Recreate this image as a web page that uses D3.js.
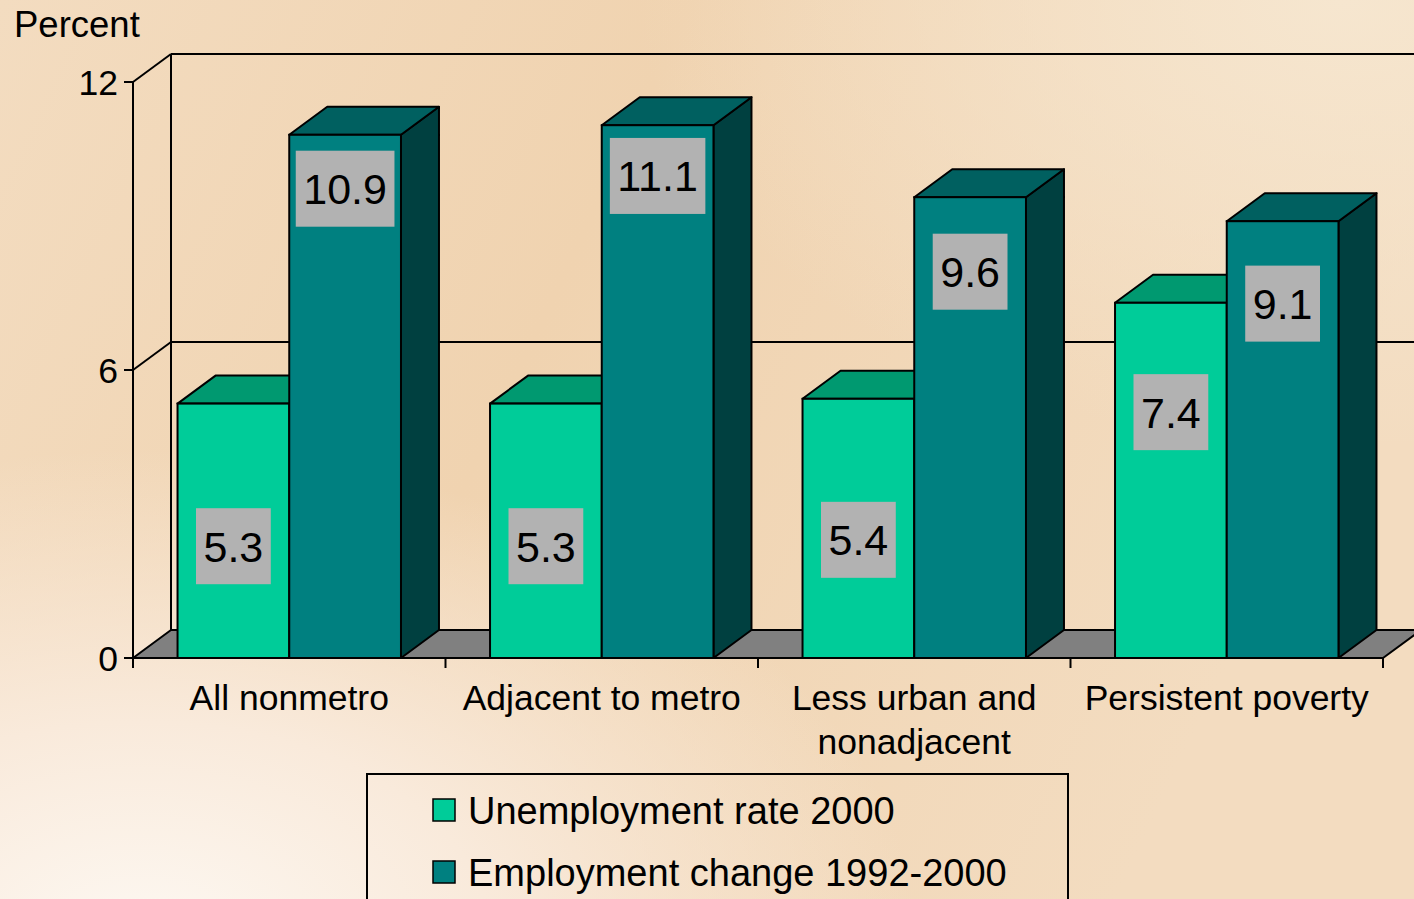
<!DOCTYPE html>
<html><head><meta charset="utf-8">
<script src="https://cdn.jsdelivr.net/npm/d3@7"></script>
<style>html,body{margin:0;padding:0;overflow:hidden;background:#f1d5b3}</style>
</head><body><svg id="c" width="1414" height="899"></svg>
<script>
const categories = ["All nonmetro", "Adjacent to metro", "Less urban and nonadjacent", "Persistent poverty"];
const categoryLabelLines = [["All nonmetro"], ["Adjacent to metro"], ["Less urban and", "nonadjacent"], ["Persistent poverty"]];
const seriesNames = ["Unemployment rate 2000", "Employment change 1992-2000"];
const unemployment = [5.3, 5.3, 5.4, 7.4];
const employment = [10.9, 11.1, 9.6, 9.1];
const yTicks = [0, 6, 12];
const yTickLabels = ["0", "6", "12"];
const yAxisTitle = "Percent";

const W = 1414, H = 899;
const FONT = "'Liberation Sans', Arial, Helvetica, sans-serif";
const colors = {
  front: ["#00cc99", "#008080"],
  top: ["#009970", "#006060"],
  side: ["#007a5c", "#004040"]
};
const DX = 38, DY = -28;

const svg = d3.select("#c");
const defs = svg.append("defs");

// background
const g1 = defs.append("radialGradient").attr("id", "bg1").attr("cx", "0.1").attr("cy", "1.05").attr("r", "0.55");
g1.append("stop").attr("offset", "0").attr("stop-color", "#fdf8f2");
g1.append("stop").attr("offset", "0.45").attr("stop-color", "#f9eadb");
g1.append("stop").attr("offset", "1").attr("stop-color", "#f9eadb").attr("stop-opacity", 0);
const g0 = defs.append("linearGradient").attr("id", "bg0").attr("x1", "0").attr("y1", "0").attr("x2", "1").attr("y2", "0.3");
g0.append("stop").attr("offset", "0").attr("stop-color", "#f3dcc0");
g0.append("stop").attr("offset", "0.45").attr("stop-color", "#f0d3b0");
g0.append("stop").attr("offset", "1").attr("stop-color", "#f3dcc0");
const g2 = defs.append("radialGradient").attr("id", "bg2").attr("cx", "0.95").attr("cy", "0").attr("r", "0.5");
g2.append("stop").attr("offset", "0").attr("stop-color", "#f6e6cf");
g2.append("stop").attr("offset", "1").attr("stop-color", "#f6e6cf").attr("stop-opacity", 0);
svg.append("rect").attr("width", W).attr("height", H).attr("fill", "url(#bg0)");
svg.append("rect").attr("width", W).attr("height", H).attr("fill", "url(#bg2)");
svg.append("rect").attr("width", W).attr("height", H).attr("fill", "url(#bg1)");

// scales
const y = d3.scaleLinear().domain([0, 12]).range([658, 82]);
const x0 = d3.scaleBand().domain(categories).range([133, 1383]).paddingInner(0.285).paddingOuter(0.1425);
const x1 = d3.scaleBand().domain([0, 1]).range([0, x0.bandwidth()]);
const xL = 133, xR = 1383;

const line = (a, b) => svg.append("line").attr("x1", a[0]).attr("y1", a[1]).attr("x2", b[0]).attr("y2", b[1])
  .attr("stroke", "#000").attr("stroke-width", 2);

// back wall & left wall
line([xL + DX, y(12) + DY], [xR + DX, y(12) + DY]);
line([xL + DX, y(12) + DY], [xL + DX, y(0) + DY]);
yTicks.filter(t => t > 0).forEach(t => {
  line([xL, y(t)], [xL + DX, y(t) + DY]);
  line([xL + DX, y(t) + DY], [xR + DX, y(t) + DY]);
});

// floor
svg.append("polygon")
  .attr("points", [[xL, y(0)], [xR, y(0)], [xR + DX, y(0) + DY], [xL + DX, y(0) + DY]].map(p => p.join(",")).join(" "))
  .attr("fill", "#808080").attr("stroke", "#000").attr("stroke-width", 2).attr("stroke-linejoin", "round");

// y axis
line([xL, y(12)], [xL, y(0)]);
yTicks.forEach((t, i) => {
  line([xL - 9, y(t)], [xL, y(t)]);
  svg.append("text").attr("x", xL - 15).attr("y", y(t)).attr("dy", "0.36em")
    .attr("text-anchor", "end").attr("font-family", FONT).attr("font-size", 35.5).attr("fill", "#000")
    .text(yTickLabels[i]);
});
svg.append("text").attr("x", 14).attr("y", 37).attr("font-family", FONT).attr("font-size", 36.5).attr("fill", "#000").text(yAxisTitle);

// bars
const series = [unemployment, employment];
const pts = a => a.map(p => p.join(",")).join(" ");
categories.forEach((c, i) => {
  series.forEach((vals, s) => {
    const v = vals[i];
    const xa = x0(c) + x1(s), xb = xa + x1.bandwidth();
    const yt = y(v), yb = y(0);
    const g = svg.append("g");
    g.append("polygon").attr("points", pts([[xb, yt], [xb + DX, yt + DY], [xb + DX, yb + DY], [xb, yb]]))
      .attr("fill", colors.side[s]).attr("stroke", "#000").attr("stroke-width", 2).attr("stroke-linejoin", "round");
    g.append("polygon").attr("points", pts([[xa, yt], [xb, yt], [xb + DX, yt + DY], [xa + DX, yt + DY]]))
      .attr("fill", colors.top[s]).attr("stroke", "#000").attr("stroke-width", 2).attr("stroke-linejoin", "round");
    g.append("rect").attr("x", xa).attr("y", yt).attr("width", xb - xa).attr("height", yb - yt)
      .attr("fill", colors.front[s]).attr("stroke", "#000").attr("stroke-width", 2);
  });
});

// front floor edge and category ticks
line([xL, y(0)], [xR, y(0)]);
[xL, ...categories.map(c => x0(c) + x0.bandwidth() + x0.step() * x0.paddingOuter())].forEach(xx => {
  line([xx, y(0)], [xx, y(0) + 10]);
});

// data labels
categories.forEach((c, i) => {
  series.forEach((vals, s) => {
    const v = vals[i];
    const cx = x0(c) + x1(s) + x1.bandwidth() / 2;
    const cy = y(1.33 * v - 4.72);
    const g = svg.append("g");
    const rect = g.append("rect").attr("fill", "#b2b2b2");
    const t = g.append("text").attr("x", cx).attr("y", cy).attr("dy", "0.36em").attr("text-anchor", "middle")
      .attr("font-family", FONT).attr("font-size", 43).attr("fill", "#000").text(v.toFixed(1));
    const w = t.node().getComputedTextLength() + 15;
    rect.attr("x", cx - w / 2).attr("y", cy - 38).attr("width", w).attr("height", 76);
  });
});

// category labels
categories.forEach((c, i) => {
  const cx = x0(c) + x0.bandwidth() / 2;
  const t = svg.append("text").attr("text-anchor", "middle").attr("font-family", FONT).attr("font-size", 35.5).attr("fill", "#000");
  categoryLabelLines[i].forEach((ln, k) => {
    t.append("tspan").attr("x", cx).attr("y", 710 + k * 44).text(ln);
  });
});

// legend
const lg = svg.append("g");
lg.append("rect").attr("x", 367).attr("y", 774).attr("width", 701).attr("height", 140)
  .attr("fill", "none").attr("stroke", "#000").attr("stroke-width", 2);
seriesNames.forEach((n, s) => {
  const cy = 810 + s * 62;
  lg.append("rect").attr("x", 433).attr("y", cy - 11).attr("width", 22).attr("height", 22)
    .attr("fill", colors.front[s]).attr("stroke", "#000").attr("stroke-width", 1.5);
  lg.append("text").attr("x", 468).attr("y", cy).attr("dy", "0.36em").attr("font-family", FONT)
    .attr("font-size", 38).attr("fill", "#000").text(n);
});
</script></body></html>
